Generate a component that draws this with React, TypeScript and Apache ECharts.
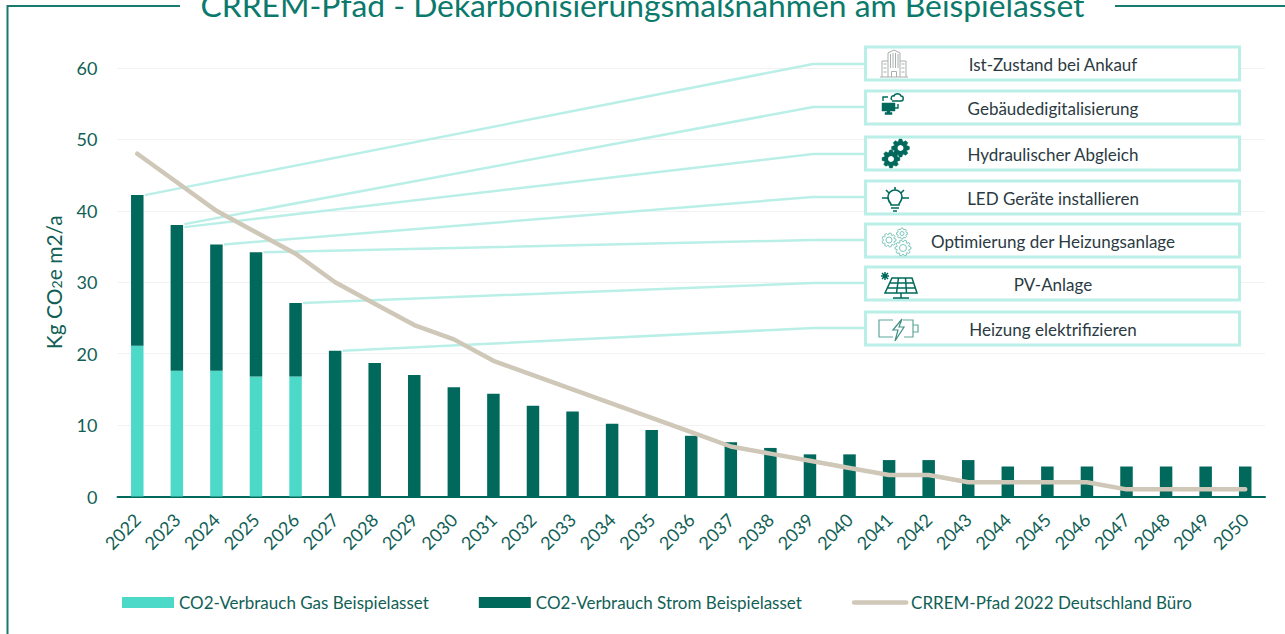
import React, { useEffect, useRef } from "react";
import * as echarts from "echarts";

const years = ["2022","2023","2024","2025","2026","2027","2028","2029","2030","2031","2032","2033","2034","2035","2036","2037","2038","2039","2040","2041","2042","2043","2044","2045","2046","2047","2048","2049","2050"];
const gas = [21.1,17.6,17.6,16.8,16.8,0,0,0,0,0,0,0,0,0,0,0,0,0,0,0,0,0,0,0,0,0,0,0,0];
const strom = [21.1,20.4,17.7,17.4,10.3,20.4,18.7,17,15.3,14.4,12.7,11.9,10.2,9.3,8.5,7.6,6.8,5.9,5.9,5.1,5.1,5.1,4.2,4.2,4.2,4.2,4.2,4.2,4.2];
const crrem = [48,44,40,37,34,30,27,24,22,19,17,15,13,11,9,7,6,5,4,3,3,2,2,2,2,1,1,1,1];

const measures = ["Ist-Zustand bei Ankauf","Gebäudedigitalisierung","Hydraulischer Abgleich","LED Geräte installieren","Optimierung der Heizungsanlage","PV-Anlage","Heizung elektrifizieren"];
const measureYearIndex = [0,1,1,2,3,4,5];
const boxTops = [47,91,137,181,224,267,312];
const elbowYs = [64,107,154,197,240,283,328];
const startNudge = [0,-1,2,0,0,0,0];

const FONT = "Lato";
const TEAL = "#00695C";
const MINT = "#4DD9C8";
const PALE = "#BAEFE8";
const SAND = "#CFC8B8";
const TXT = "#125F56";

function gear(cx: number, cy: number, r: number, n: number) {
  const pts: string[] = [];
  const step = (Math.PI * 2) / n;
  for (let i = 0; i < n; i++) {
    const a = i * step;
    const seq: [number, number][] = [[a - step * 0.42, r * 0.76],[a - step * 0.2, r],[a + step * 0.2, r],[a + step * 0.42, r * 0.76]];
    seq.forEach(([t, q]) => pts.push(`${(cx + q * Math.cos(t)).toFixed(2)} ${(cy + q * Math.sin(t)).toFixed(2)}`));
  }
  return "M" + pts.join("L") + "Z";
}

echarts.graphic.registerShape("icoBuilding", echarts.graphic.extendPath("M0 27H28M2 27V11H8M20 11H26V27M8 27V3L14 0L20 3V27M11.5 27V21.5H16.5V27M3.5 14H6.5M3.5 18H6.5M3.5 22H6.5M21.5 14H24.5M21.5 18H24.5M21.5 22H24.5M10.5 4V18M13 3V18M15.5 3V18M18 4V18", {}));
echarts.graphic.registerShape("icoMonitor", echarts.graphic.extendPath("M1 10H14V18H9V19.5H11V21.5H4V19.5H6V18H1Z", {}));
echarts.graphic.registerShape("icoCloud", echarts.graphic.extendPath("M11 7C9 5 11 2 13 3C14 0 19 0 20 3C23 3 23 8 20 8H11M2 8V4H7M17 11V15H13", {}));
echarts.graphic.registerShape("icoGear1", echarts.graphic.extendPath(gear(18.5, 9, 9, 8), {}));
echarts.graphic.registerShape("icoGear2", echarts.graphic.extendPath(gear(9, 20, 9, 8), {}));
echarts.graphic.registerShape("icoBulb", echarts.graphic.extendPath("M9 17C6 14 6 11 6 10A7 7 0 0 1 20 10C20 12 19 14 17 17V18H9ZM9 21H17M11 24H15M0 11H6M20 11H27M13 0V3M4 3L7 6M22 3L19 6", {}));
echarts.graphic.registerShape("icoGearA", echarts.graphic.extendPath(gear(7, 12, 7, 9) + "M10 12A3 3 0 1 0 4 12A3 3 0 1 0 10 12", {}));
echarts.graphic.registerShape("icoGearB", echarts.graphic.extendPath(gear(20, 5.5, 5.5, 8) + "M22 5.5A2 2 0 1 0 18 5.5A2 2 0 1 0 22 5.5", {}));
echarts.graphic.registerShape("icoGearC", echarts.graphic.extendPath(gear(21, 20, 8, 10) + "M24.5 20A3.5 3.5 0 1 0 17.5 20A3.5 3.5 0 1 0 24.5 20", {}));
echarts.graphic.registerShape("icoPanel", echarts.graphic.extendPath("M12 7H32L37 22H5ZM10 12H34M7.5 17H35.5M18.5 7L16.5 22M25.5 7L26.5 22M21 22V27M13 27H29M1 5H9M5 1V9M2 2L8 8M8 2L2 8", {}));
echarts.graphic.registerShape("icoBattery", echarts.graphic.extendPath("M14 2H0V19H14M24 2H34V19H25M34 7H39V14H34", {}));
echarts.graphic.registerShape("icoBolt", echarts.graphic.extendPath("M23 1L14 12H19L16 23L25 9H20Z", {}));

const iconGraphics = (): any[] => {
  const solid = { fill: TEAL, stroke: TEAL, lineWidth: 0.5 };
  const line = { fill: "none", stroke: TEAL, lineWidth: 1.6 };
  const light = { fill: "none", stroke: "#7CC7BC", lineWidth: 1 };
  const batt = { fill: "none", stroke: "#5FA79B", lineWidth: 1.2 };
  return [
    { type: "icoBuilding", x: 880, y: 50, style: { fill: "none", stroke: "#A8AFAC", lineWidth: 1 } },
    { type: "icoMonitor", x: 881, y: 93, style: solid },
    { type: "icoCloud", x: 881, y: 93, style: { ...line, lineWidth: 1.4 } },
    { type: "icoGear1", x: 882, y: 139, style: solid },
    { type: "circle", shape: { cx: 900.5, cy: 148, r: 3 }, style: { fill: "#fff" } },
    { type: "icoGear2", x: 882, y: 139, style: solid },
    { type: "circle", shape: { cx: 891, cy: 159, r: 3 }, style: { fill: "#fff" } },
    { type: "icoBulb", x: 882, y: 187, style: line },
    { type: "icoGearA", x: 882, y: 228, style: light },
    { type: "icoGearB", x: 882, y: 228, style: light },
    { type: "icoGearC", x: 882, y: 228, style: light },
    { type: "icoPanel", x: 880, y: 271, style: { ...line, lineWidth: 1.5 } },
    { type: "icoBattery", x: 879, y: 318, style: batt },
    { type: "icoBolt", x: 879, y: 318, style: { ...batt, stroke: "#3F8F83" } },
  ];
};

export default function App() {
  const ref = useRef<HTMLDivElement>(null);
  useEffect(() => {
    document.body.style.margin = "0";
    const chart = echarts.init(ref.current!, undefined, { renderer: "svg" });
    const option: any = {
      animation: false,
      backgroundColor: "#fff",
      title: {
        text: "CRREM-Pfad - Dekarbonisierungsmaßnahmen am Beispielasset",
        left: "center",
        top: -16,
        textStyle: { fontFamily: FONT, fontSize: 31.8, fontWeight: "normal", color: "#0B7A6C" },
      },
      grid: { left: 117.5, right: 20, top: 68, bottom: 634 - 496.5 },
      legend: {
        left: 122,
        top: 594,
        padding: 0,
        itemWidth: 52,
        itemHeight: 11,
        itemGap: 50,
        textStyle: { fontFamily: FONT, fontSize: 17, color: TXT },
        data: [
          { name: "CO2-Verbrauch Gas Beispielasset", icon: "rect" },
          { name: "CO2-Verbrauch Strom Beispielasset", icon: "rect" },
          { name: "CRREM-Pfad 2022 Deutschland Büro", itemStyle: { opacity: 0 }, lineStyle: { width: 4.5, color: SAND } },
        ],
      },
      xAxis: {
        type: "category",
        data: years,
        axisLine: { lineStyle: { color: TEAL, width: 2 } },
        axisTick: { show: false },
        axisLabel: { rotate: 45, margin: 20, interval: 0, fontFamily: FONT, fontSize: 18, color: TXT },
      },
      yAxis: {
        type: "value",
        min: 0,
        max: 60,
        interval: 10,
        axisLine: { show: false },
        axisTick: { show: false },
        splitLine: { lineStyle: { color: "#F2F2F2", width: 1 } },
        axisLabel: { margin: 20, fontFamily: FONT, fontSize: 18, color: TXT },
        name: "{a|Kg CO}{s|2}{a|e m2/a}",
        nameLocation: "middle",
        nameGap: 54,
        nameTextStyle: {
          rich: {
            a: { fontFamily: FONT, fontSize: 21, color: TXT },
            s: { fontFamily: FONT, fontSize: 14, color: TXT, verticalAlign: "bottom", padding: [7, 0, 0, 0] },
          },
        },
      },
      series: [
        { name: "CO2-Verbrauch Gas Beispielasset", type: "bar", stack: "a", barWidth: 12.5, data: gas, itemStyle: { color: MINT } },
        { name: "CO2-Verbrauch Strom Beispielasset", type: "bar", stack: "a", barWidth: 12.5, data: strom, itemStyle: { color: TEAL } },
        { name: "CRREM-Pfad 2022 Deutschland Büro", type: "line", data: crrem, symbol: "none", smooth: false, z: 5, lineStyle: { color: SAND, width: 4.5, cap: "round", join: "round" }, itemStyle: { color: SAND } },
      ],
    };
    chart.setOption(option);

    const connectors = measures.map((_, i) => {
      const idx = measureYearIndex[i];
      const total = gas[idx] + strom[idx];
      const p = chart.convertToPixel({ xAxisIndex: 0, yAxisIndex: 0 }, [idx, total]) as number[];
      return {
        type: "polyline",
        shape: { points: [[p[0] + 7.5, p[1] + startNudge[i]], [813, elbowYs[i]], [866, elbowYs[i]]] },
        style: { fill: "none", stroke: PALE, lineWidth: 2.5 },
      };
    });
    const boxes = measures.flatMap((m, i) => [
      { type: "rect", shape: { x: 865.5, y: boxTops[i], width: 374, height: 33 }, style: { fill: "#fff", stroke: PALE, lineWidth: 3 } },
      { type: "text", x: 1053, y: boxTops[i] + 17, style: { text: m, fontFamily: FONT, fontSize: 17, fill: "#2B3A42", align: "center", verticalAlign: "middle" } },
    ]);
    const frame = [
      { type: "polyline", shape: { points: [[180, 6], [7.5, 6], [7.5, 634]] }, style: { fill: "none", stroke: "#1A7A6E", lineWidth: 2 } },
      { type: "line", shape: { x1: 1115, y1: 6, x2: 1285, y2: 6 }, style: { stroke: "#1A7A6E", lineWidth: 2 } },
    ];
    chart.setOption({ graphic: { elements: [{ type: "group", z: 10, children: [...frame, ...connectors, ...boxes, ...iconGraphics()] }] } });
    return () => chart.dispose();
  }, []);
  return <div ref={ref} style={{ position: "absolute", left: 0, top: 0, width: 1285, height: 634 }} />;
}
